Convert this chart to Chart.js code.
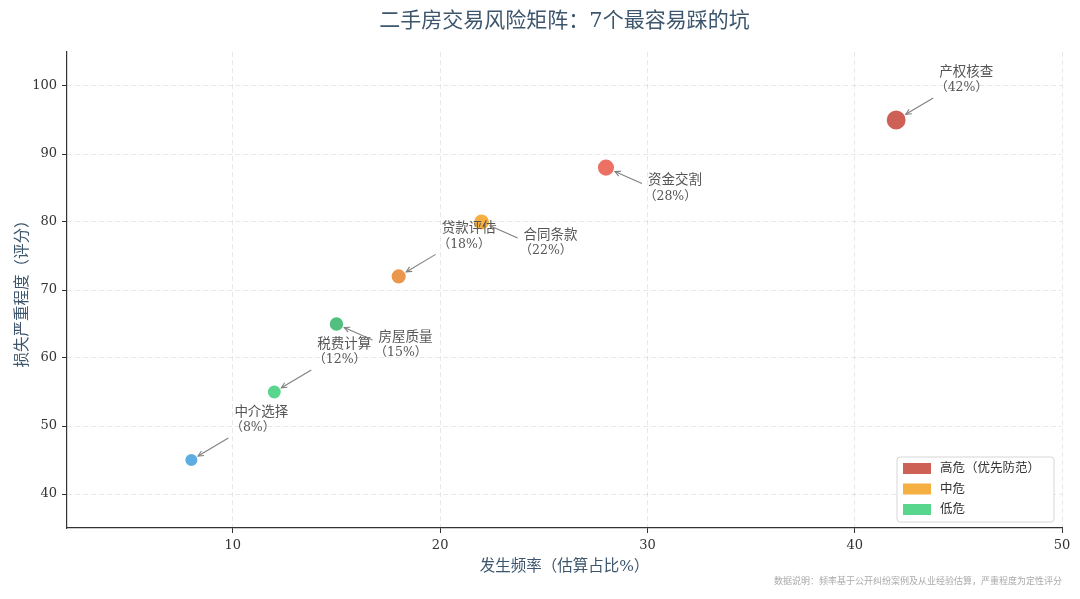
<!DOCTYPE html>
<html>
<head>
<meta charset="utf-8">
<script src="https://cdn.jsdelivr.net/npm/chart.js@4"></script>
<style>
  html, body { margin: 0; padding: 0; background: #fff; }
  #box { width: 1080px; height: 599px; }
</style>
</head>
<body>
<div id="box"><canvas id="chartRisco"></canvas></div>
<script>
// dados
const riscos = ["中介选择", "税费计算", "房屋质量", "贷款评估", "合同条款", "资金交割", "产权核查"];
const frequencia = [8, 12, 15, 18, 22, 28, 42];
const severidade = [45, 55, 65, 72, 80, 88, 95];
const coresPonto = ["#5DADE2", "#58D68D", "#52BE80", "#EB984E", "#F5B041", "#EC7063", "#CD6155"];
const ladoRotulo = ["up", "up", "down", "up", "down", "down", "up"];

const xTicks = [10, 20, 30, 40, 50];
const yTicks = [40, 50, 60, 70, 80, 90, 100];

const niveis = ["高危（优先防范）", "中危", "低危"];
const coresNivel = ["#CD6155", "#F5B041", "#58D68D"];

const fonte = "'DejaVu Serif', 'Noto Sans CJK SC', serif";
const titulo = "二手房交易风险矩阵：7个最容易踩的坑";
const nota = "数据说明：频率基于公开纠纷案例及从业经验估算，严重程度为定性评分";

// titulo centrado na area do grafico, rotulos com seta, legenda e nota
const pluginRotulos = {
    id: 'rotulos',
    afterDatasetsDraw(chart) {
        const ctx = chart.ctx;
        const area = chart.chartArea;
        const pontos = chart.getDatasetMeta(0).data;
        ctx.save();
        ctx.textBaseline = 'middle';

        ctx.textAlign = 'center';
        ctx.font = "21px " + fonte;
        ctx.fillStyle = '#3D566E';
        ctx.fillText(titulo, (area.left + area.right) / 2, 22);

        ctx.textAlign = 'left';
        pontos.forEach((p, i) => {
            const r = p.options.radius;
            let ini, tx, ty;
            if (ladoRotulo[i] === 'up') {
                ini = [p.x + 37, p.y - 22];
                tx = p.x + 43; ty = p.y - 48;
            } else {
                ini = [p.x + 36, p.y + 16];
                tx = p.x + 42; ty = p.y + 13;
            }
            const ang = Math.atan2(p.y - ini[1], p.x - ini[0]);
            const fim = [p.x - Math.cos(ang) * (r + 1), p.y - Math.sin(ang) * (r + 1)];

            ctx.strokeStyle = '#808080';
            ctx.lineWidth = 1.1;
            ctx.beginPath();
            ctx.moveTo(ini[0], ini[1]);
            ctx.lineTo(fim[0], fim[1]);
            ctx.stroke();
            // ponta da seta
            const t = 6;
            ctx.beginPath();
            ctx.moveTo(fim[0] - Math.cos(ang - 0.45) * t, fim[1] - Math.sin(ang - 0.45) * t);
            ctx.lineTo(fim[0], fim[1]);
            ctx.lineTo(fim[0] - Math.cos(ang + 0.45) * t, fim[1] - Math.sin(ang + 0.45) * t);
            ctx.stroke();

            ctx.fillStyle = '#555555';
            ctx.font = "13.5px " + fonte;
            ctx.fillText(riscos[i], tx, ty);
            ctx.font = "12.5px " + fonte;
            ctx.fillText("（" + frequencia[i] + "%）", tx - 4, ty + 16);
        });

        // legenda dentro da area
        const lx = area.right - 165, ly = area.bottom - 71, lw = 157, lh = 65;
        ctx.fillStyle = 'rgba(255,255,255,0.9)';
        ctx.strokeStyle = '#d6d6d6';
        ctx.lineWidth = 1;
        ctx.beginPath();
        ctx.roundRect(lx, ly, lw, lh, 3);
        ctx.fill();
        ctx.stroke();
        ctx.font = "12.5px " + fonte;
        niveis.forEach((n, i) => {
            const yy = ly + 12 + i * 20.5;
            ctx.fillStyle = coresNivel[i];
            ctx.fillRect(lx + 6, yy - 6, 28, 11);
            ctx.fillStyle = '#333333';
            ctx.fillText(n, lx + 43, yy);
        });

        // nota
        ctx.font = "9px " + fonte;
        ctx.fillStyle = '#aaaaaa';
        ctx.textAlign = 'right';
        ctx.fillText(nota, area.right, 582);
        ctx.restore();
    }
};

document.addEventListener('DOMContentLoaded', () => {
    const ctxRisco = document.getElementById('chartRisco');

    new Chart(ctxRisco, {
        type: 'scatter',
        data: {
            datasets: [{
                label: '风险',
                data: frequencia.map((f, i) => ({ x: f, y: severidade[i] })),
                backgroundColor: coresPonto,
                borderColor: '#ffffff',
                borderWidth: 1.5,
                radius: (c) => 6 + frequencia[c.dataIndex] * 0.1,
                hoverRadius: (c) => 6 + frequencia[c.dataIndex] * 0.1
            }]
        },
        options: {
            responsive: true,
            maintainAspectRatio: false,
            animation: false,
            layout: {
                padding: { left: 10, right: 18, top: 52, bottom: 19 }
            },
            plugins: {
                legend: { display: false },
                tooltip: { enabled: false },
                title: { display: false }
            },
            scales: {
                x: {
                    type: 'linear',
                    min: 2,
                    max: 50,
                    afterBuildTicks: (s) => { s.ticks = xTicks.map(v => ({ value: v })); },
                    afterFit: (s) => { s.height = 52; },
                    grid: {
                        color: 'rgba(0,0,0,0.09)',
                        tickColor: '#333',
                        tickBorderDash: [],
                        tickLength: 5,
                        tickWidth: 1
                    },
                    border: { display: true, color: '#333', width: 1.2, dash: [5, 3] },
                    ticks: { color: '#333', font: { family: fonte, size: 13 }, padding: 5 },
                    title: {
                        display: true,
                        text: '发生频率（估算占比%）',
                        color: '#3D566E',
                        font: { family: fonte, size: 15.5 },
                        padding: { top: 1 }
                    }
                },
                y: {
                    type: 'linear',
                    min: 35,
                    max: 105,
                    afterBuildTicks: (s) => { s.ticks = yTicks.map(v => ({ value: v })); },
                    afterFit: (s) => { s.width = 57; },
                    grid: {
                        color: 'rgba(0,0,0,0.09)',
                        tickColor: '#333',
                        tickBorderDash: [],
                        tickLength: 5,
                        tickWidth: 1
                    },
                    border: { display: true, color: '#333', width: 1.2, dash: [5, 3] },
                    ticks: { color: '#333', font: { family: fonte, size: 13 }, padding: 5 },
                    title: {
                        display: true,
                        text: '损失严重程度（评分）',
                        color: '#3D566E',
                        font: { family: fonte, size: 15.5 },
                        padding: { bottom: 3 }
                    }
                }
            }
        },
        plugins: [pluginRotulos]
    });
});
</script>
</body>
</html>
